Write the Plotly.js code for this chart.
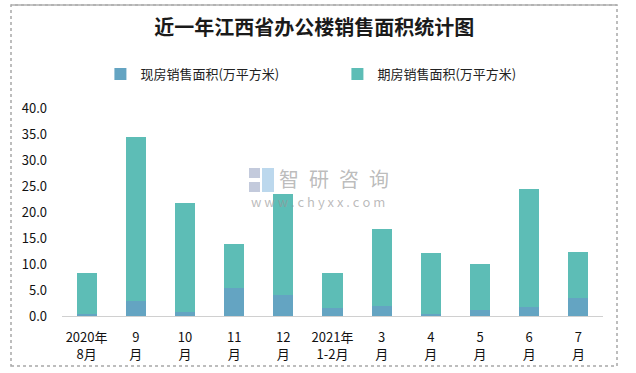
<!DOCTYPE html>
<html>
<head>
<meta charset="utf-8">
<script src="https://cdn.plot.ly/plotly-3.0.1.min.js"></script>
<style>html,body{margin:0;padding:0;background:#fff;}#chart{width:636px;height:373px;}</style>
</head>
<body>
<div id="chart"></div>
<script>
const categories = ["2020年<br>8月", "9<br>月", "10<br>月", "11<br>月", "12<br>月", "2021年<br>1-2月", "3<br>月", "4<br>月", "5<br>月", "6<br>月", "7<br>月"];
const existingArea = [0.4, 2.9, 0.8, 5.4, 4.0, 1.5, 1.9, 0.4, 1.2, 1.7, 3.5];
const futuresArea = [7.9, 31.5, 20.9, 8.5, 19.5, 6.8, 14.8, 11.7, 8.8, 22.7, 8.8];
const yTicks = [0, 5, 10, 15, 20, 25, 30, 35, 40];
const yTickLabels = ["0.0", "5.0", "10.0", "15.0", "20.0", "25.0", "30.0", "35.0", "40.0"];
const seriesNames = ["现房销售面积(万平方米)", "期房销售面积(万平方米)"];

const font = "'Noto Sans CJK SC', 'Noto Sans', sans-serif";

const traces = [
  {type: "bar", name: seriesNames[0], x: categories, y: existingArea, marker: {color: "#64a4c2"}, hoverinfo: "y"},
  {type: "bar", name: seriesNames[1], x: categories, y: futuresArea, marker: {color: "#5dbdb6"}, hoverinfo: "y"}
];

const layout = {
  width: 636, height: 373,
  margin: {l: 62, r: 33, t: 108, b: 57},
  paper_bgcolor: "#fff", plot_bgcolor: "#fff",
  barmode: "stack", bargap: 0.59,
  font: {family: font, size: 12, color: "#222"},
  title: {text: "<b>近一年江西省办公楼销售面积统计图</b>", x: 0.494, xref: "container", xanchor: "center", y: 0.925, yref: "container", yanchor: "middle", font: {family: font, size: 20, color: "#1a1a1a"}},
  showlegend: true,
  legend: {orientation: "h", x: 0.071, xanchor: "left", y: 1.163, yanchor: "middle", font: {family: font, size: 13, color: "#222"}, entrywidth: 192, entrywidthmode: "pixels", traceorder: "normal", itemwidth: 30},
  xaxis: {type: "category", tickfont: {family: font, size: 13, color: "#111"}, showline: true, linecolor: "#d0d0d0", linewidth: 1, ticks: "", ticklabelstandoff: 9, showgrid: false, fixedrange: true},
  yaxis: {range: [0, 40], tickvals: yTicks, ticktext: yTickLabels, tickfont: {family: font, size: 13, color: "#111"}, ticklabelstandoff: 14, showgrid: false, zeroline: false, showline: false, ticks: "", fixedrange: true},
  shapes: [
    {type: "rect", xref: "paper", yref: "paper", x0: -51/541, x1: 555/541, y0: -50/208, y1: 311/208, line: {color: "#a8a8a8", width: 1.5, dash: "dot"}, layer: "below"},
    {type: "line", xref: "paper", yref: "paper", x0: -51/541, x1: 555/541, y0: 311/208, y1: 311/208, line: {color: "#b0b0b0", width: 1.5}},
    {type: "rect", xref: "paper", yref: "paper", x0: (249-62)/541, x1: (260-62)/541, y0: (316-168)/208, y1: (316-178)/208, line: {width: 0}, fillcolor: "rgba(170,180,205,0.7)"},
    {type: "rect", xref: "paper", yref: "paper", x0: (262-62)/541, x1: (274-62)/541, y0: (316-168)/208, y1: (316-192)/208, line: {width: 0}, fillcolor: "rgba(160,200,230,0.7)"},
    {type: "rect", xref: "paper", yref: "paper", x0: (249-62)/541, x1: (260-62)/541, y0: (316-182)/208, y1: (316-192)/208, line: {width: 0}, fillcolor: "rgba(170,180,205,0.7)"}
  ],
  annotations: [
    {text: "智\u2002研\u2002咨\u2002询", xref: "paper", yref: "paper", x: (334 - 62)/541, y: (316 - 178)/208, xanchor: "center", yanchor: "middle", showarrow: false, font: {family: font, size: 20, color: "rgba(150,150,150,0.65)"}},
    {text: "w w w . c h y x x . c o m", xref: "paper", yref: "paper", x: (318 - 62)/541, y: (316 - 201)/208, xanchor: "center", yanchor: "middle", showarrow: false, font: {family: font, size: 13, color: "rgba(150,150,150,0.65)"}}
  ]
};

Plotly.newPlot("chart", traces, layout, {displayModeBar: false, staticPlot: true});
</script>
</body>
</html>
